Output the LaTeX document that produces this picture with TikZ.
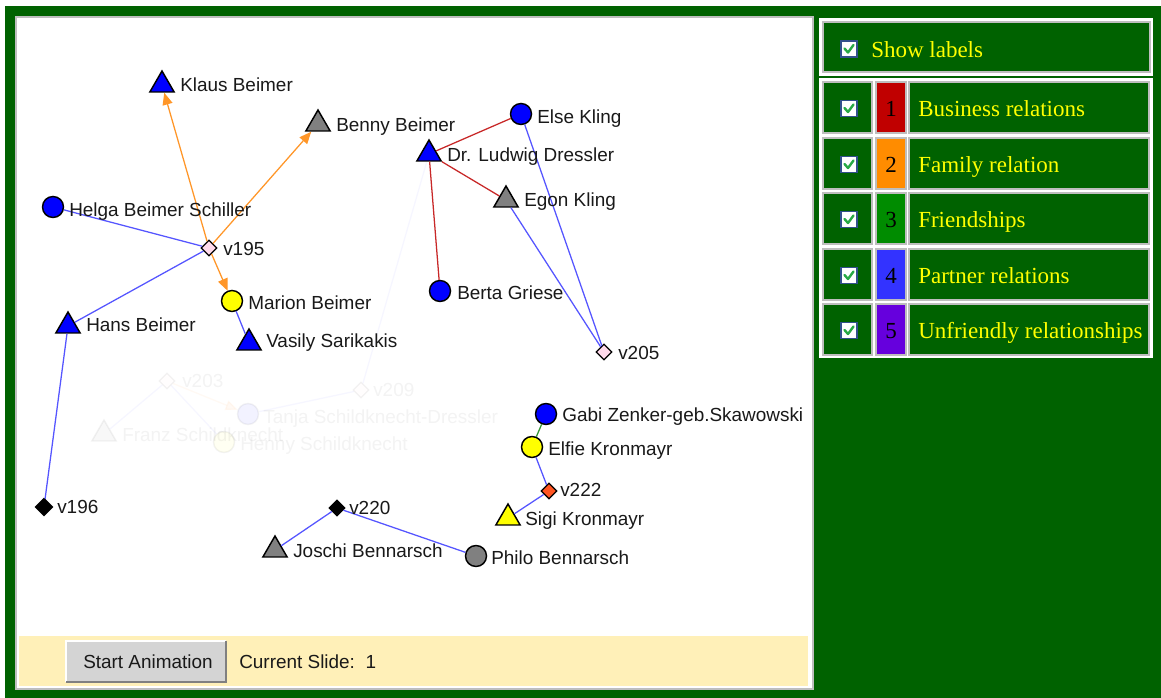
\documentclass[tikz,border=0pt]{standalone}
\usepackage{fontspec}
\setmainfont{Liberation Serif}
\newfontfamily\arialf{Liberation Sans}
\usetikzlibrary{shapes.geometric,arrows.meta}
\definecolor{frame}{RGB}{0,98,0}
\definecolor{barY}{RGB}{255,240,184}
\definecolor{btn}{RGB}{212,212,212}
\definecolor{lgray}{RGB}{190,190,190}
\definecolor{txt}{RGB}{25,25,25}
\definecolor{nblue}{RGB}{0,0,255}
\definecolor{ngray}{RGB}{128,128,128}
\definecolor{nyellow}{RGB}{255,255,0}
\definecolor{npink}{RGB}{255,218,235}
\definecolor{norange}{RGB}{255,85,34}
\definecolor{epart}{RGB}{85,85,255}
\definecolor{ebus}{RGB}{200,40,40}
\definecolor{efam}{RGB}{255,150,40}
\definecolor{efri}{RGB}{50,150,50}
\definecolor{c1}{RGB}{192,0,0}
\definecolor{c2}{RGB}{255,140,0}
\definecolor{c3}{RGB}{0,140,0}
\definecolor{c4}{RGB}{51,51,255}
\definecolor{c5}{RGB}{102,0,221}
\definecolor{ckgreen}{RGB}{40,170,70}
\definecolor{ckborder}{RGB}{50,80,140}
\newcommand\ckbox[2]{%
  \filldraw[fill=white,draw=ckborder,line width=0.9pt] (#1-8,#2-8) rectangle (#1+8,#2+8);
  \draw[ckgreen,line width=1.8pt,line cap=round,line join=round] (#1-4.5,#2-0.5) -- (#1-1,#2+3.5) -- (#1+4.5,#2-4);
}
\begin{document}
\begin{tikzpicture}[x=0.75pt,y=-0.75pt,
  tri/.style={regular polygon, regular polygon sides=3, minimum size=21pt, inner sep=0pt, draw=black, line width=1.1pt},
  circ/.style={circle, minimum size=15.75pt, inner sep=0pt, draw=black, line width=1.1pt},
  dia/.style={diamond, minimum size=12pt, inner sep=0pt, draw=black, line width=1pt},
  lbl/.style={anchor=base west, inner sep=0pt, text=txt, font=\arialf\fontsize{14.2}{16}\selectfont},
  partner/.style={draw=epart, line width=0.95pt},
  business/.style={draw=ebus, line width=0.95pt},
  friend/.style={draw=efri, line width=0.95pt},
  family/.style={draw=efam, line width=0.95pt, -{Triangle[length=9pt,width=7.5pt]}},
  serifl/.style={anchor=base west, inner sep=0pt, text=nyellow, font=\fontsize{17.25}{20}\selectfont},
  numl/.style={anchor=base, inner sep=0pt, text=black, font=\fontsize{17.25}{20}\selectfont},
  faded/.style={opacity=0.05}
]
\useasboundingbox (0,0) rectangle (1161,698);
\fill[white] (0,0) rectangle (1161,698);
\fill[frame] (5,6) rectangle (1161,698);
\filldraw[fill=white,draw=lgray,line width=0.8pt] (16,17) rectangle (813,689);
\fill[barY] (19,636) rectangle (808,686);

% button
\fill[btn] (66,641) rectangle (226,682);
\draw[white,line width=1.5pt] (66,682) -- (66,641) -- (226,641);
\draw[ngray,line width=1.5pt] (66,682) -- (226,682) -- (226,641);
\node[lbl] (btnT) at (83,668) {Start Animation};
\node[lbl] (slide) at (239,668) {Current Slide:\ \ 1};

% right panel
\fill[white] (819,18) rectangle (1153,76);
\filldraw[fill=frame,draw=lgray,line width=0.8pt] (823,22) rectangle (1150,72);
\ckbox{849}{49}
\node[serifl] (show) at (871,58) {Show labels};

\fill[white] (819,78) rectangle (1153,358);
\foreach \yc/\col/\num/\name in {107.5/c1/1/Business relations, 163.5/c2/2/Family relation, 218.5/c3/3/Friendships, 274.5/c4/4/Partner relations, 329.5/c5/5/Unfriendly relationships}{
  \filldraw[fill=frame,draw=lgray,line width=0.8pt] (823,\yc-25.5) rectangle (872,\yc+25.5);
  \filldraw[fill=\col,draw=lgray,line width=0.8pt] (876,\yc-25.5) rectangle (906,\yc+25.5);
  \filldraw[fill=frame,draw=lgray,line width=0.8pt] (909,\yc-25.5) rectangle (1149,\yc+25.5);
  \ckbox{849}{\yc+1}
  \node[numl] at (891,\yc+9.5) {\num};
  \node[serifl] at (918,\yc+9.5) {\name};
}

% ---------- faded (previous slide) part ----------
\begin{scope}[faded]
\node[dia,fill=npink] (v203) at (167,381) {};
\node[dia,fill=npink] (v209) at (361,390) {};
\node[tri,fill=ngray] (franz) at (104,434) {};
\node[circ,fill=nblue] (tanja) at (248,414) {};
\node[circ,fill=nyellow] (henny) at (224,442) {};
\node[lbl] at (182,388) {v203};
\node[lbl] at (373,397) {v209};
\node[lbl] at (122,442) {Franz Schildknecht};
\node[lbl] at (263,424) {Tanja Schildknecht-Dressler};
\node[lbl] at (240,451) {Henny Schildknecht};
\end{scope}

% ---------- nodes ----------
\node[tri,fill=nblue] (klaus) at (162,85) {};
\node[tri,fill=ngray] (benny) at (318,124) {};
\node[tri,fill=nblue] (ludwig) at (429,154) {};
\node[circ,fill=nblue] (else) at (521,114) {};
\node[tri,fill=ngray] (egon) at (506,200) {};
\node[circ,fill=nblue] (berta) at (440,291) {};
\node[dia,fill=npink] (v205) at (604,352) {};
\node[circ,fill=nblue] (helga) at (53,207) {};
\node[dia,fill=npink] (v195) at (209,248) {};
\node[circ,fill=nyellow] (marion) at (232,301) {};
\node[tri,fill=nblue] (hans) at (68,326) {};
\node[tri,fill=nblue] (vasily) at (249,343) {};
\node[dia,fill=black,minimum size=13pt] (v196) at (44,507) {};
\node[dia,fill=black] (v220) at (337,508) {};
\node[tri,fill=ngray] (joschi) at (275,550) {};
\node[circ,fill=ngray] (philo) at (476,556) {};
\node[circ,fill=nblue] (gabi) at (546,414) {};
\node[circ,fill=nyellow] (elfie) at (532,447) {};
\node[dia,fill=norange] (v222) at (549,491) {};
\node[tri,fill=nyellow] (sigi) at (508,518) {};

% faded edges
\begin{scope}[faded]
\draw[partner] (ludwig) -- (v209);
\draw[partner] (v209) -- (tanja);
\draw[family] (v203) -- (tanja);
\draw[partner] (v203) -- (franz);
\draw[partner] (v203) -- (henny);
\end{scope}

% ---------- edges ----------
\draw[family] (v195) -- (klaus);
\draw[family] (v195) -- (benny);
\draw[family] (v195) -- (marion);
\draw[partner] (helga) -- (v195);
\draw[partner] (hans) -- (v195);
\draw[partner] (marion) -- (vasily);
\draw[partner] (hans) -- (v196);
\draw[business] (ludwig) -- (else);
\draw[business] (ludwig) -- (egon);
\draw[business] (ludwig) -- (berta);
\draw[partner] (else) -- (v205);
\draw[partner] (egon) -- (v205);
\draw[friend] (gabi) -- (elfie);
\draw[partner] (elfie) -- (v222);
\draw[partner] (v222) -- (sigi);
\draw[partner] (v220) -- (joschi);
\draw[partner] (v220) -- (philo);

% ---------- labels ----------
\node[lbl] (klausL) at (180,92) {Klaus Beimer};
\node[lbl] (bennyL) at (336,132) {Benny Beimer};
\node[lbl] (ludwigL) at (447,162) {Dr. Ludwig Dressler};
\node[lbl] (elseL) at (537,124) {Else Kling};
\node[lbl] (egonL) at (524,207) {Egon Kling};
\node[lbl] (bertaL) at (457,300) {Berta Griese};
\node[lbl] (v205L) at (618,360) {v205};
\node[lbl] (helgaL) at (69,217) {Helga Beimer Schiller};
\node[lbl] (v195L) at (223,256) {v195};
\node[lbl] (marionL) at (248,310) {Marion Beimer};
\node[lbl] (hansL) at (86,332) {Hans Beimer};
\node[lbl] (vasilyL) at (266,348) {Vasily Sarikakis};
\node[lbl] (v196L) at (57,513) {v196};
\node[lbl] (v220L) at (349,515) {v220};
\node[lbl] (joschiL) at (293,557) {Joschi Bennarsch};
\node[lbl] (philoL) at (491,565) {Philo Bennarsch};
\node[lbl] (gabiL) at (562,422) {Gabi Zenker-geb.Skawowski};
\node[lbl] (elfieL) at (548,456) {Elfie Kronmayr};
\node[lbl] (v222L) at (560,497) {v222};
\node[lbl] (sigiL) at (525,526) {Sigi Kronmayr};
\end{tikzpicture}
\end{document}
